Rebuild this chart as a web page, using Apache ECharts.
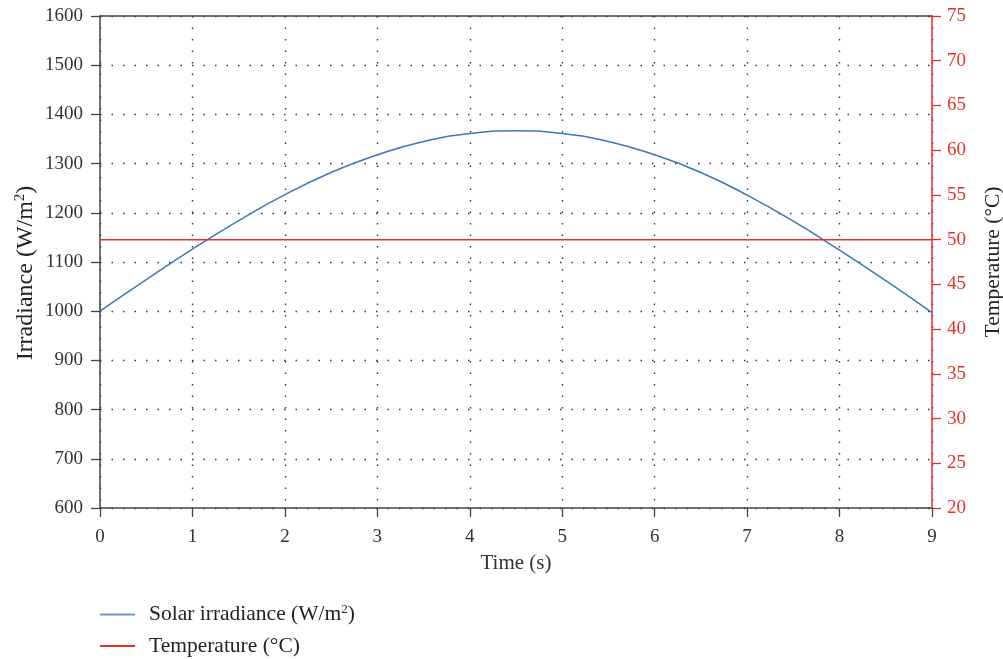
<!DOCTYPE html>
<html><head><meta charset="utf-8">
<script src="https://cdn.jsdelivr.net/npm/echarts@6/dist/echarts.min.js"></script>
<style>html,body{margin:0;padding:0;background:#fff}#c{width:1003px;height:659px}</style>
</head><body><div id="c"></div>
<script>
const timeS = [0,0.5,1,1.5,2,2.5,3,3.5,4,4.5,5,5.5,6,6.5,7,7.5,8,8.5,9];
const irradiance = [1000,1064,1126,1184,1237,1282,1318,1345,1361,1367,1361,1345,1318,1282,1236,1183,1124,1062,997];
const tempTime = [0,9];
const temperature = [50,50];
const seriesNames = ['Solar irradiance (W/m2)','Temperature (°C)'];

const F = '"Liberation Serif", "DejaVu Serif", serif';
const FS = 19;
const legendRich = {
  a:{fontFamily:F,fontSize:21.5,color:'#222',lineHeight:24},
  s:{fontFamily:F,fontSize:13,color:'#222',padding:[0,0,10,0],lineHeight:24}
};
const nameRich = {
  a:{fontFamily:F,fontSize:24,color:'#222',lineHeight:26},
  s:{fontFamily:F,fontSize:15,color:'#222',padding:[0,0,11,0],lineHeight:26}
};
const chart = echarts.init(document.getElementById('c'));
chart.setOption({
  animation:false,
  textStyle:{fontFamily:F},
  grid:{left:100,right:71,top:16,bottom:151,containLabel:false,outerBoundsMode:'none'},
  legend:{orient:'vertical',left:100,top:603,padding:0,itemGap:9,itemWidth:35,itemHeight:2,icon:'rect',
    formatter:n=>n===seriesNames[0]?'{a|Solar irradiance (W/m}{s|2}{a|)}':'{a|'+n+'}',
    textStyle:{fontFamily:F,fontSize:21.5,color:'#222',padding:[0,0,0,9],rich:legendRich},data:seriesNames},
  xAxis:[{type:'value',min:0,max:9,interval:1,name:'Time (s)',nameLocation:'middle',nameGap:45,
    nameTextStyle:{fontSize:21,color:'#333',fontFamily:F},
    axisLine:{onZero:false,lineStyle:{color:'#444',width:1.5}},axisTick:{show:true,length:9,lineStyle:{color:'#444',width:1.3}},
    axisLabel:{fontSize:FS,color:'#333',fontFamily:F,margin:20},
    splitLine:{show:true,lineStyle:{color:'#333',type:[1.5,10],width:1.4}}},
    {type:'value',position:'top',min:0,max:9,axisLine:{show:true,onZero:false,lineStyle:{color:'#444',width:1.5}},
     axisTick:{show:false},axisLabel:{show:false},splitLine:{show:false}}],
  yAxis:[{type:'value',min:600,max:1600,interval:100,
    name:'{a|Irradiance (W/m}{s|2}{a|)}',nameLocation:'middle',nameGap:61,nameMoveOverlap:false,
    nameTextStyle:{fontSize:24,color:'#222',fontFamily:F,rich:nameRich,padding:[0,22,0,0]},
    axisLine:{show:true,onZero:false,lineStyle:{color:'#444',width:1.5}},axisTick:{show:true,length:9,lineStyle:{color:'#444',width:1.3}},
    axisLabel:{fontSize:FS,color:'#333',fontFamily:F,margin:17,formatter:v=>String(v)},
    splitLine:{show:true,lineStyle:{color:'#333',type:[1.5,10],width:1.4}}},
   {type:'value',position:'right',min:20,max:75,interval:5,name:'Temperature (°C)',nameLocation:'middle',nameGap:50,
    nameRotate:90,nameTextStyle:{fontSize:21.5,color:'#222',fontFamily:F},
    axisLine:{show:true,onZero:false,lineStyle:{color:'#e8302a',width:1.5}},axisTick:{show:true,length:9,lineStyle:{color:'#e8302a',width:1.3}},
    axisLabel:{fontSize:FS,color:'#e8302a',fontFamily:F,margin:15,formatter:v=>String(v)},splitLine:{show:false}}],
  series:[
    {name:seriesNames[0],type:'line',smooth:true,showSymbol:false,yAxisIndex:0,
     lineStyle:{color:'#3a78c0',width:1.5},itemStyle:{color:'#6a9bd0'},
     data:timeS.map((t,i)=>[t,irradiance[i]])},
    {name:seriesNames[1],type:'line',showSymbol:false,yAxisIndex:1,
     lineStyle:{color:'#e8302a',width:1.5},itemStyle:{color:'#e8302a'},
     data:tempTime.map((t,i)=>[t,temperature[i]])}
  ]
});
</script></body></html>
